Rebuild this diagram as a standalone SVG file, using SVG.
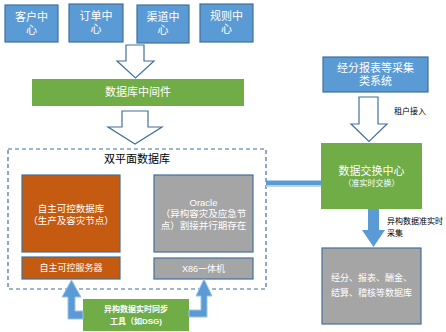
<svg xmlns="http://www.w3.org/2000/svg" width="446" height="332" viewBox="0 0 446 332">
<style>
text{font-family:"Liberation Sans","Noto Sans CJK SC",sans-serif;fill:#fff;text-anchor:middle;dominant-baseline:central}
.blue{fill:#5b9bd5;stroke:#41719c;stroke-width:1.2}
.green{fill:#70ad47}
.orange{fill:#c55a11;stroke:#41719c;stroke-width:1.2}
.gray{fill:#a5a5a5;stroke:#41719c;stroke-width:1.2}
.hollow{fill:#fff;stroke:#41719c;stroke-width:1.2}
.solid{fill:#5b9bd5;stroke:#9dc3e6;stroke-width:1}
.dark{fill:#000}
</style>
<rect width="446" height="332" fill="#fff"/>
<g id="node-kehu"><rect class="blue" x="5" y="5" width="53" height="37"/><text x="31.5" y="17" font-size="11">客户中</text><text x="31.5" y="30" font-size="11">心</text></g>
<g id="node-dingdan"><rect class="blue" x="69" y="4" width="54" height="38"/><text x="96" y="16" font-size="11">订单中</text><text x="96" y="29" font-size="11">心</text></g>
<g id="node-qudao"><rect class="blue" x="137" y="5" width="52" height="38"/><text x="163" y="17" font-size="11">渠道中</text><text x="163" y="30" font-size="11">心</text></g>
<g id="node-guize"><rect class="blue" x="200" y="4" width="53" height="38"/><text x="226.5" y="16" font-size="11">规则中</text><text x="226.5" y="29" font-size="11">心</text></g>
<g id="node-middleware"><rect class="green" x="32" y="79" width="212" height="27"/><text x="138" y="92" font-size="11">数据库中间件</text></g>
<g id="node-dualplane"><rect x="8" y="149" width="258" height="140" fill="none" stroke="#41719c" stroke-width="1.2" stroke-dasharray="4,3"/><text class="dark" x="137" y="159" font-size="11">双平面数据库</text></g>
<g id="node-zizhu-db"><rect class="orange" x="22" y="175" width="98" height="77"/><text x="71" y="208" font-size="9.5">自主可控数据库</text><text x="71" y="220" font-size="9.5">（生产及容灾节点）</text></g>
<g id="node-zizhu-server"><rect class="orange" x="22" y="257" width="98" height="22"/><text x="71" y="268" font-size="9">自主可控服务器</text></g>
<g id="node-oracle"><rect class="gray" x="154" y="175" width="99" height="77"/><text x="203.5" y="202" font-size="9.5">Oracle</text><text x="203.5" y="213" font-size="9.5">（异构容灾及应急节</text><text x="203.5" y="225" font-size="9.5">点）割接并行期存在</text></g>
<g id="node-x86"><rect class="gray" x="154" y="258" width="99" height="21"/><text x="203.5" y="268.5" font-size="9">X86一体机</text></g>
<g id="node-caiji"><rect class="blue" x="323" y="57" width="105" height="35"/><text x="375.5" y="68" font-size="11">经分报表等采集</text><text x="375.5" y="81" font-size="11">类系统</text></g>
<g id="node-exchange"><rect class="green" x="321" y="143" width="101" height="66"/><text x="371.5" y="171" font-size="11">数据交换中心</text><text x="371.5" y="183" font-size="8">（准实时交换）</text></g>
<g id="node-targetdb"><rect class="gray" x="322" y="248" width="99" height="76"/><text x="371.5" y="278" font-size="9">经分、报表、酬金、</text><text x="371.5" y="293" font-size="9">结算、稽核等数据库</text></g>
<g id="node-dsg"><rect class="green" x="83" y="299" width="106" height="32"/><text x="136" y="309" font-size="8" font-weight="bold">异构数据实时同步</text><text x="136" y="321" font-size="8" font-weight="bold">工具（如DSG)</text></g>
<g id="connectors">
<polygon class="hollow" points="126,45 144,45 144,61 154,61 135.5,78 117,61 126,61"/>
<polygon class="hollow" points="122,111 148,111 148,127 162,127 135,144 108,127 122,127"/>
<polygon class="hollow" points="359,97 378,97 378,124 387,124 369,141.5 351,124 359,124"/>
<text class="dark" x="394" y="111" font-size="8" style="text-anchor:start">租户接入</text>
<rect x="266" y="180.5" width="55" height="5" fill="#5b9bd5"/>
<rect x="266" y="185.5" width="55" height="1.5" fill="#bdd7ee"/>
<polygon points="368,209 379,209 379,230 385,230 373.5,247 362,230 368,230" fill="#5b9bd5"/>
<text class="dark" x="387" y="221" font-size="8" style="text-anchor:start">异构数据准实时</text>
<text class="dark" x="387" y="233" font-size="8" style="text-anchor:start">采集</text>
<polygon class="solid" points="83,311 75,311 75,297 81,297 71.5,280 62,297 68,297 68,319 83,319"/>
<polygon class="solid" points="189,310 201,310 201,296 196,296 204,279 212,296 207,296 207,317 189,317"/>
</g>
</svg>
